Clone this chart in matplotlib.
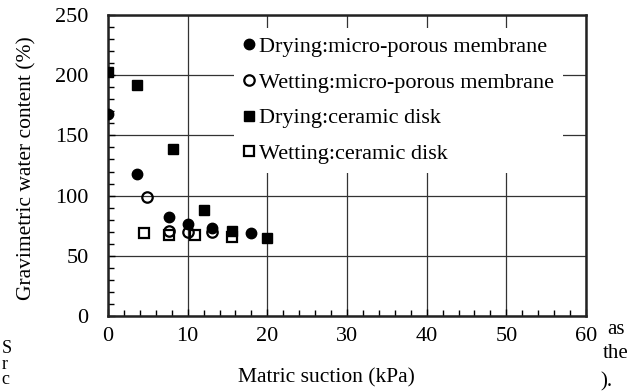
import numpy as np
import matplotlib
matplotlib.use('Agg')
import matplotlib.pyplot as plt

plt.rcParams['font.family'] = ['Liberation Serif', 'DejaVu Serif']

# Datos
drying_mem_x = [0, 3.7, 7.7, 10, 13, 18]
drying_mem_y = [168, 118, 82, 76, 73, 69]
wetting_mem_x = [4.9, 7.7, 10, 13.1]
wetting_mem_y = [99, 71, 70, 70]
drying_cer_x = [0, 3.7, 8.1, 12.1, 15.6, 19.9]
drying_cer_y = [203, 192, 139, 88, 71, 65]
wetting_cer_x = [4.5, 7.7, 10.9, 15.6]
wetting_cer_y = [69, 67, 67, 66]

labels = ['Drying:micro-porous membrane',
          'Wetting:micro-porous membrane',
          'Drying:ceramic disk',
          'Wetting:ceramic disk']

fig = plt.figure(figsize=(6.43, 3.92), dpi=100)
ax = fig.add_axes([108/643, 1 - 316/392, 478/643, 301/392])

ms = 7.5
ax.plot(drying_mem_x, drying_mem_y, 'o', color='black', ms=ms, label=labels[0], zorder=3)
ax.plot(wetting_mem_x, wetting_mem_y, 'o', mfc='none', mec='black', mew=1.6, ms=ms,
        label=labels[1], zorder=3)
ax.plot(drying_cer_x, drying_cer_y, 's', color='black', ms=ms, label=labels[2], zorder=3)
ax.plot(wetting_cer_x, wetting_cer_y, 's', mfc='none', mec='black', mew=1.6, ms=ms,
        label=labels[3], zorder=3)

ax.set_xlim(0, 60)
ax.set_ylim(0, 250)
ax.set_xticks(range(0, 61, 10))
ax.set_yticks(range(0, 251, 50))
ax.set_xticks(np.arange(0, 61, 2), minor=True)
ax.set_yticks(np.arange(0, 251, 10), minor=True)
ax.tick_params(which='both', direction='in', top=False, right=False)
ax.tick_params(which='major', length=5, width=1, labelsize=16, pad=8)
ax.tick_params(which='minor', length=4, width=1)
ax.tick_params(axis='y', which='major', pad=14)
ax.grid(True, which='major', color='#333333', linewidth=0.9)
for s in ax.spines.values():
    s.set_linewidth(1.8)
    s.set_color('#222222')

ax.set_xlabel('Matric suction (kPa)', fontsize=15.5)
ax.set_ylabel('Gravimetric water content (%)', fontsize=15.5)
ax.xaxis.set_label_coords(0.458, -0.175)
ax.yaxis.set_label_coords(-0.15, 0.49)

leg = ax.legend(loc='upper left', bbox_to_anchor=(0.263, 0.958), fontsize=16,
                frameon=True, fancybox=False, edgecolor='none', facecolor='white',
                framealpha=1, handlelength=0.6, handletextpad=0.15,
                labelspacing=0.68, borderpad=0.4, borderaxespad=0)
leg.set_zorder(2)

# restos de texto del documento original
fig.text(0.002, 1 - 340/392, 'S\nr\nc', fontsize=13, va='top', linespacing=0.9)
fig.text(607/643, 1 - 330/392, 'as', fontsize=15, va='center')
fig.text(603/643, 1 - 354/392, 'the', fontsize=15, va='center')
fig.text(600/643, 1 - 391/392, ').', fontsize=15, va='bottom')

fig.savefig('out.png', dpi=100)
